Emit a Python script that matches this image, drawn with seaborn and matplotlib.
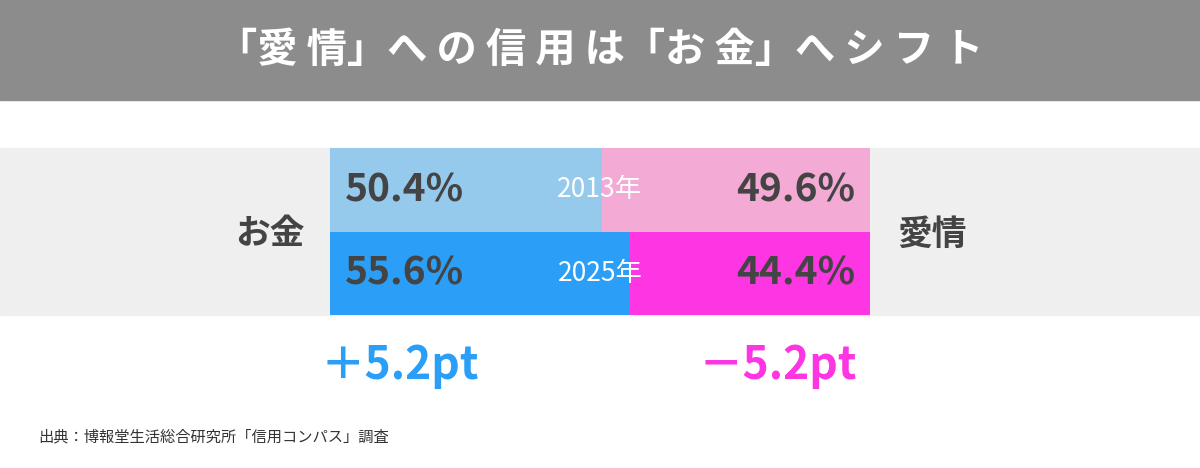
import matplotlib
matplotlib.use("Agg")
import matplotlib.pyplot as plt
import matplotlib.patches as mpatches
import seaborn as sns

sns.set_theme(style="white")
plt.rcParams["font.family"] = ["Noto Sans CJK JP", "DejaVu Sans"]

years = ["2013年", "2025年"]
money = [50.4, 55.6]
love = [49.6, 44.4]
money_colors = ["#95caec", "#2b9ff8"]
love_colors = ["#f3aad4", "#fd35e2"]
diff_labels = ["＋5.2pt", "－5.2pt"]

W, H = 1200, 468
fig = plt.figure(figsize=(12, 4.68), dpi=100)


def px(x, y):
    return x / W, 1 - y / H


# title banner and grey band
fig.patches.append(mpatches.Rectangle((0, 1 - 100 / H), 1, 100 / H, transform=fig.transFigure,
                                      color="#8c8c8c", zorder=-5))
fig.patches.append(mpatches.Rectangle((0, 1 - 315 / H), 1, 167 / H, transform=fig.transFigure,
                                      color="#efefef", zorder=-5))
fig.text(*px(600, 50), "「愛 情」へ の 信 用 は「お 金」へ シ フ ト", color="white", fontsize=29,
         fontweight="bold", ha="center", va="center")

ax = fig.add_axes([330 / W, 1 - 315 / H, 540 / W, 167 / H])
ax.set_zorder(5)
ax.set_facecolor("none")
y = [0, 1]
ax.barh(y, money, height=1.0, color=money_colors, linewidth=0)
ax.barh(y, love, left=money, height=1.0, color=love_colors, linewidth=0)
ax.set_xlim(0, 100)
ax.set_ylim(1.5, -0.5)
ax.axis("off")
for i in range(2):
    ax.text(2.8, y[i], f"{money[i]}%", color="#444444", fontsize=28, fontweight="bold",
            ha="left", va="center")
    ax.text(97.2, y[i], f"{love[i]}%", color="#444444", fontsize=28, fontweight="bold",
            ha="right", va="center")
    ax.text(50, y[i], years[i], color="white", fontsize=19, ha="center", va="center")

fig.text(*px(270, 234), "お金", color="#444444", fontsize=25, fontweight="bold", ha="center", va="center")
fig.text(*px(932, 234), "愛情", color="#444444", fontsize=25, fontweight="bold", ha="center", va="center")
fig.text(*px(400, 366), diff_labels[0], color="#2b9ff8", fontsize=32, fontweight="bold",
         ha="center", va="center")
fig.text(*px(778, 366), diff_labels[1], color="#fd35e2", fontsize=32, fontweight="bold",
         ha="center", va="center")
fig.text(*px(38, 437), "出典：博報堂生活総合研究所「信用コンパス」調査", color="#333333", fontsize=11,
         ha="left", va="center")

fig.savefig("out.png", dpi=100)
